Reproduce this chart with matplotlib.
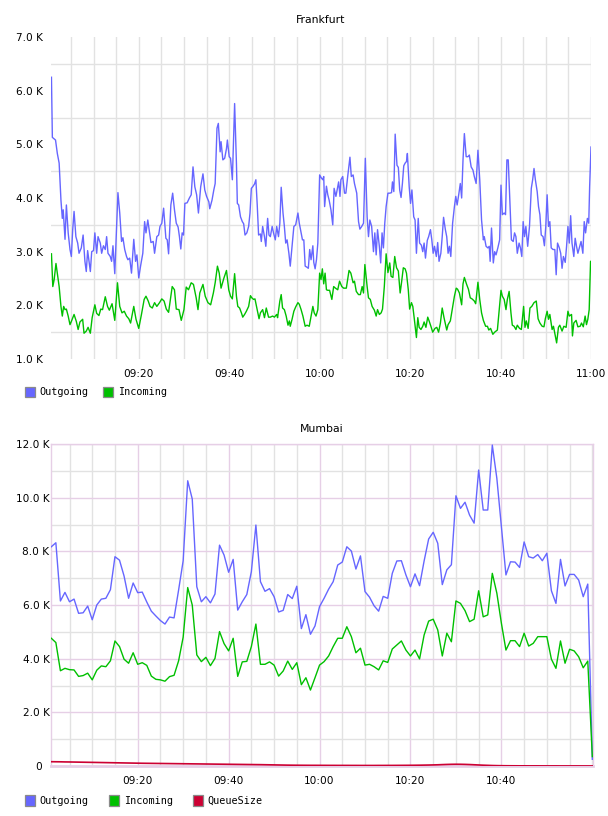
import matplotlib
matplotlib.use("Agg")
import matplotlib.pyplot as plt
from matplotlib.patches import Rectangle
import numpy as np

# ---------------- DATA ----------------
# Frankfurt: (minutes after 09:00, value in K)
FRA_OUT = [(0.7,6.25),(0.9,5.13),(1.6,5.08),(2.0,4.83),(2.4,4.65),(2.8,3.96),(3.1,3.62),(3.3,3.78),(3.7,3.23),(4.0,3.87),
(4.4,3.35),(4.8,3.04),(5.1,2.91),(5.4,3.41),(5.7,3.75),(6.1,3.28),(6.5,3.16),(6.8,2.97),(7.3,3.07),(7.7,3.31),
(8.1,2.82),(8.4,2.63),(8.7,3.02),(9.3,2.63),(9.6,3.00),(10.0,3.02),(10.3,3.35),(10.7,2.97),(11.0,3.28),(11.5,3.16),
(11.8,2.97),(12.2,3.11),(12.6,3.04),(12.9,3.28),(13.2,2.97),(13.7,2.91),(14.0,2.82),(14.3,3.11),(14.7,2.59),(15.4,4.10),
(15.8,3.72),(16.2,3.19),(16.5,3.26),(16.9,3.04),(17.3,2.91),(17.6,2.85),(18.0,2.88),(18.4,2.60),(18.9,3.23),(19.3,2.82),
(19.6,2.94),(20.0,2.51),(20.4,2.73),(20.9,2.97),(21.3,3.56),(21.6,3.35),(22.0,3.59),(22.4,3.35),(22.7,3.17),(23.2,3.19),
(23.5,2.97),(24.0,3.28),(24.4,3.31),(24.7,3.47),(25.1,3.53),(25.5,3.81),(26.0,3.25),(26.3,3.22),(26.6,2.96),(27.1,3.87),
(27.5,4.09),(27.9,3.78),(28.3,3.53),(28.7,3.46),(29.0,3.28),(29.3,3.05),(29.6,3.35),(29.9,3.31),(30.2,3.90),(30.7,3.91),
(31.2,4.00),(31.6,4.06),(32.0,4.58),(32.4,4.21),(32.8,4.06),(33.2,3.72),(33.7,4.21),(34.2,4.45),(34.6,4.15),(35.0,4.03),
(35.5,3.93),(35.7,3.80),(36.2,3.96),(36.6,4.15),(36.9,4.27),(37.3,5.30),(37.6,5.39),(38.0,4.86),(38.2,5.05),(38.6,4.71),
(39.0,4.74),(39.4,4.92),(39.6,5.08),(40.0,4.77),(40.3,4.74),(40.7,4.34),
(41.2,5.76),(41.6,4.65),(41.8,3.90),(42.1,3.87),(42.5,3.65),(42.9,3.56),(43.2,3.52),(43.5,3.31),(43.9,3.35),(44.3,3.47),
(44.6,3.72),(44.9,4.18),(45.2,4.21),(45.6,4.26),(45.9,4.34),(46.2,3.87),(46.5,3.31),(46.9,3.33),(47.1,3.19),(47.4,3.47),
(47.8,3.28),(48.1,3.10),(48.5,3.62),(48.8,3.31),(49.1,3.28),(49.5,3.47),(49.8,3.35),(50.2,3.22),(50.5,3.47),(50.9,3.28),
(51.2,3.53),(51.5,4.20),(51.9,3.72),(52.2,3.47),(52.5,3.16),(52.8,3.22),(53.2,2.97),(53.5,2.73),(53.9,3.10),(54.3,3.47),
(54.7,3.50),(54.9,3.59),(55.2,3.72),(55.5,3.53),(55.9,3.35),(56.2,3.22),(56.5,3.22),(56.8,2.73),(57.2,2.71),(57.5,2.69),
(57.8,3.04),(58.1,2.85),(58.5,3.11),(58.7,2.80),(59.0,2.68),(59.3,2.85),(59.6,3.16),(60.0,4.43),(60.4,4.37),(60.7,4.34),
(60.9,4.40),(61.1,3.84),(61.5,4.22),(61.8,4.06),(62.1,3.96),(62.5,3.78),(62.9,3.50),(63.2,4.18),(63.6,4.03),(63.8,4.12),
(64.2,4.30),(64.5,4.03),(64.7,4.34),(65.1,4.40),(65.5,4.09),(65.8,4.09),(66.2,4.40),(66.7,4.76),(67.0,4.40),(67.4,4.43),
(67.7,4.27),(68.2,4.09),(68.6,3.56),(68.9,3.42),(69.3,3.47),(69.7,3.53),(70.1,4.74),(70.5,3.65),(70.8,3.28),(71.1,3.59),
(71.5,3.47),(71.9,3.00),(72.2,3.35),(72.5,2.94),(72.8,3.41),(73.2,3.10),(73.5,2.79),(73.8,3.35),(74.1,3.07),(74.4,3.53),
(74.7,3.84),(75.1,4.09),(75.5,4.09),(75.9,4.10),(76.1,4.30),(76.4,4.12),(76.7,5.19),(77.1,4.61),(77.4,4.57),(77.7,4.15),
(78.0,4.01),(78.3,4.27),(78.6,4.60),(78.9,4.65),(79.2,4.68),(79.4,4.83),(79.8,4.21),(80.1,3.90),(80.4,4.15),
(80.8,3.65),(81.1,3.59),(81.4,2.97),(81.8,3.62),(82.1,3.16),(82.5,3.12),(82.8,3.00),(83.1,3.16),(83.4,2.88),(83.8,3.21),
(84.1,3.28),(84.5,3.41),(84.8,3.22),(85.1,2.97),(85.4,3.10),(85.8,2.91),(86.1,3.17),(86.4,2.82),(86.8,2.97),(87.1,3.28),
(87.4,3.64),(87.8,3.41),(88.1,3.28),(88.4,2.97),(88.7,3.10),(89.0,2.91),(89.4,3.53),(89.8,3.84),(90.1,4.03),(90.4,3.87),
(90.8,4.09),(91.1,4.27),(91.4,4.00),(91.7,4.71),(92.0,5.20),(92.4,4.77),(92.8,4.77),(93.1,4.80),(93.5,4.58),(93.9,4.52),
(94.2,4.40),(94.6,4.27),(95.0,4.89),(95.4,4.34),(95.8,3.59),(96.2,3.22),(96.4,3.28),(96.8,3.10),(97.2,3.07),(97.5,3.10),
(97.7,2.82),(98.0,3.44),(98.4,2.79),(98.7,3.00),(99.0,2.94),(99.4,3.07),(99.8,3.22),(100.1,4.24),(100.4,3.69),(100.8,3.72),
(101.1,3.69),(101.4,4.71),(101.7,4.71),(102.0,4.09),(102.4,3.22),(102.8,3.19),(103.1,3.35),(103.4,3.28),(103.7,2.97),(104.1,3.16),
(104.4,3.07),(104.7,2.91),(105.0,3.56),(105.3,3.28),(105.6,3.47),(106.0,3.10),(106.4,3.47),(106.8,4.18),(107.1,4.34),(107.4,4.55),
(107.7,4.34),(108.1,4.12),(108.4,3.84),(108.7,3.69),(109.0,3.31),(109.4,3.28),(109.7,3.11),(110.0,3.47),(110.3,4.06),(110.6,3.47),
(110.9,3.56),(111.2,3.07),(111.6,3.04),(112.0,3.04),(112.3,2.57),(112.6,3.16),(113.0,3.07),(113.3,2.97),(113.6,2.69),(113.9,2.91),
(114.3,2.80),(114.6,3.10),(114.9,3.47),(115.2,3.16),(115.5,3.67),(115.8,3.16),(116.2,2.91),(116.5,3.25),(116.8,3.10),(117.1,2.97),
(117.5,3.10),(117.8,3.19),(118.2,2.97),(118.5,3.56),(118.8,3.35),(119.2,3.62),(119.5,3.53),(119.7,4.21),(120.0,4.95)]

FRA_IN = [(0.7,2.96),(1.0,2.35),(1.3,2.48),(1.7,2.78),(2.0,2.60),(2.4,2.35),(2.8,1.98),(3.1,1.80),(3.4,1.98),(3.7,1.92),
(4.0,1.93),(4.4,1.80),(4.8,1.64),(5.1,1.70),(5.7,1.83),(6.2,1.70),(6.6,1.55),(7.0,1.69),(7.6,1.74),(7.9,1.48),
(8.4,1.52),(8.8,1.59),(9.3,1.48),(9.7,1.77),(10.3,2.01),(10.7,1.85),(11.2,1.81),(11.6,1.93),(12.0,1.92),(12.6,2.16),
(13.1,1.98),(13.5,1.91),(14.1,2.03),(14.7,1.72),(15.3,2.42),(15.8,1.98),(16.3,1.86),(16.8,1.89),(17.3,1.80),(17.8,1.75),
(18.2,1.67),(18.9,1.98),(19.4,1.74),(20.0,1.57),(20.6,1.83),(21.2,2.11),(21.6,2.17),(22.1,2.08),(22.5,1.98),(23.0,1.95),
(23.5,2.05),(24.0,1.98),(24.6,2.05),(25.1,2.12),(25.6,2.08),(26.1,1.93),(26.6,1.87),(27.4,2.35),(27.9,2.29),(28.3,1.93),
(28.9,1.92),(29.4,1.72),(30.0,1.92),(30.5,2.34),(31.0,2.29),(31.6,2.42),(32.1,2.39),(32.7,2.14),(33.1,1.92),(33.5,2.23),
(34.2,2.39),(34.7,2.17),(35.3,2.05),(35.9,2.01),(36.5,2.23),(36.9,2.42),(37.4,2.73),(37.8,2.60),(38.2,2.32),(38.8,2.50),
(39.4,2.65),(39.9,2.29),(40.3,2.17),(40.7,2.12),
(41.2,2.59),(41.6,2.17),(41.9,1.98),(42.3,1.95),(42.7,1.86),(43.0,1.78),(43.4,1.83),(43.8,1.89),(44.3,1.98),(44.7,2.18),
(45.0,2.14),(45.4,2.11),(45.7,2.12),(46.2,1.92),(46.6,1.75),(46.9,1.86),(47.4,1.92),(47.8,1.77),(48.2,1.95),(48.7,1.78),
(49.1,1.78),(49.6,1.80),(50.0,1.78),(50.5,1.83),(50.7,1.77),(51.2,2.08),(51.5,2.20),(51.8,1.95),(52.2,1.92),(52.6,1.80),
(53.0,1.63),(53.3,1.71),(53.5,1.61),(53.9,1.74),(54.3,1.89),(54.7,1.97),(55.2,2.05),(55.5,2.02),(55.9,1.92),(56.3,1.80),
(56.8,1.61),(57.2,1.63),(57.7,1.61),(58.1,1.80),(58.5,1.98),(58.8,1.86),(59.2,1.80),(59.6,1.92),(60.0,2.60),(60.3,2.48),
(60.6,2.68),(60.9,2.40),(61.2,2.60),(61.5,2.29),(61.8,2.28),(62.2,2.28),(62.7,2.11),(63.1,2.35),(63.5,2.32),(64.0,2.29),
(64.4,2.45),(64.9,2.35),(65.3,2.32),(65.9,2.32),(66.5,2.65),(66.9,2.60),(67.4,2.42),(67.7,2.45),(68.1,2.26),(68.6,2.20),
(69.0,2.20),(69.4,2.35),(69.7,2.23),(70.0,2.76),(70.5,2.35),(70.8,2.14),(71.2,2.11),(71.6,1.98),(72.1,1.91),(72.5,1.80),
(72.8,1.92),(73.2,1.83),(73.6,1.86),(73.9,1.93),(74.3,2.35),(74.7,2.96),(75.1,2.61),(75.5,2.79),(75.8,2.54),(76.2,2.52),
(76.6,2.91),(77.0,2.70),(77.4,2.64),(77.8,2.23),(78.1,2.42),(78.5,2.70),(78.9,2.68),(79.2,2.60),(79.6,2.29),(79.9,1.93),
(80.3,2.05),
(80.6,1.98),(80.9,1.77),(81.4,1.40),(81.7,1.77),(82.0,1.59),(82.4,1.55),(82.8,1.61),(83.1,1.69),(83.5,1.59),(83.9,1.78),
(84.2,1.71),(84.6,1.61),(85.0,1.50),(85.5,1.57),(85.9,1.59),(86.3,1.50),(86.7,1.67),(87.1,1.95),(87.5,1.77),(88.1,1.54),
(88.4,1.64),(88.9,1.71),(89.3,1.92),(89.8,2.17),(90.2,2.32),(90.5,2.30),(90.9,2.23),(91.4,2.01),(91.7,2.40),(92.0,2.52),
(92.5,2.39),(92.9,2.30),(93.3,2.14),(93.7,2.12),(94.2,2.08),(94.5,2.03),(95.0,2.43),(95.4,2.11),(95.8,1.86),(96.2,1.72),
(96.7,1.61),(97.1,1.61),(97.4,1.54),(97.8,1.57),(98.3,1.46),(98.7,1.50),(99.3,1.54),(99.7,1.92),(100.1,2.28),(100.4,2.17),
(100.8,2.11),(101.2,1.92),(101.5,2.11),(101.9,2.26),(102.3,1.86),(102.6,1.63),(103.0,1.61),(103.4,1.55),(103.7,1.63),(104.2,1.57),
(104.6,1.55),(105.1,1.98),(105.4,1.59),(105.7,1.71),(106.1,1.57),(106.5,1.95),(106.9,1.98),(107.4,2.05),(107.9,2.08),(108.3,1.75),
(108.7,1.67),(109.2,1.61),(109.6,1.60),(109.9,1.75),(110.3,1.89),(110.6,1.74),(110.9,1.83),(111.4,1.55),(111.7,1.61),(112.1,1.43),
(112.4,1.30),(112.8,1.59),(113.1,1.63),(113.6,1.52),(114.0,1.61),(114.5,1.59),(114.9,1.89),(115.2,1.80),(115.7,1.83),(115.9,1.43),
(116.2,1.67),(116.7,1.72),(117.1,1.60),(117.6,1.61),(117.9,1.67),(118.3,1.60),(118.7,1.80),(119.0,1.64),(119.3,1.74),(119.6,1.92),
(119.9,2.82),(120.0,2.82)]

# Mumbai: one sample per minute from 09:01 to 11:00 (values in K)
MUM_OUT = [8.17,8.32,6.15,6.47,6.12,6.22,5.69,5.71,5.96,5.45, 6.00,6.22,6.25,6.57,7.80,7.67,7.08,6.25,6.82,6.46,
           6.48,6.11,5.77,5.59,5.42,5.29,5.55,5.52,6.56,7.65, 10.63,9.95,6.68,6.12,6.31,6.08,6.41,8.23,7.86,7.22,
           7.70,5.81,6.12,6.39,7.24,8.98,6.87,6.51,6.61,6.31, 5.74,5.80,6.39,6.24,6.70,5.12,5.64,4.91,5.22,5.94,
           6.25,6.59,6.87,7.49,7.60,8.17,8.01,7.34,7.83,6.50, 6.29,5.97,5.77,6.32,6.25,7.18,7.64,7.65,7.12,6.68,
           7.16,6.72,7.64,8.46,8.71,8.30,6.76,7.31,7.50,10.07, 9.60,9.83,9.35,9.05,11.03,9.54,9.54,11.96,10.72,8.92,
           7.12,7.61,7.60,7.40,8.35,7.80,7.75,7.88,7.65,7.93, 6.53,6.06,7.70,6.71,7.14,7.14,6.93,6.31,6.78,0.25]
MUM_IN = [4.76,4.60,3.55,3.64,3.59,3.58,3.34,3.37,3.46,3.21, 3.57,3.73,3.70,3.92,4.66,4.45,3.98,3.83,4.22,3.79,
          3.85,3.75,3.35,3.23,3.21,3.16,3.33,3.38,3.92,4.80, 6.65,6.00,4.14,3.89,4.05,3.74,4.01,5.01,4.56,4.29,
          4.76,3.34,3.88,3.90,4.45,5.29,3.79,3.79,3.88,3.76, 3.35,3.54,3.91,3.60,3.85,3.03,3.29,2.83,3.29,3.76,
          3.89,4.10,4.45,4.76,4.76,5.19,4.82,4.22,4.39,3.76, 3.79,3.70,3.58,3.92,3.86,4.36,4.51,4.66,4.32,4.10,
          4.32,3.99,4.88,5.40,5.47,5.07,4.10,4.95,4.63,6.15, 6.06,5.79,5.38,5.47,6.53,5.56,5.63,7.18,6.44,5.32,
          4.32,4.67,4.67,4.45,4.95,4.47,4.57,4.82,4.82,4.82, 3.98,3.64,4.66,3.83,4.35,4.29,4.07,3.66,3.91,0.35]
MUM_QUEUE = [160,158,156,152,150,147,144,141,138,135,132,129,126,123,120,117,114,111,108,105,
             102,100,98,96,94,92,90,88,86,84,82,80,78,76,74,72,70,68,66,64,
             62,60,58,56,54,52,50,47,44,41,38,35,32,30,28,
             27,26,25,25,24,24,23,23,22,22,22,21,21,20,20,20,20,21,21,22,22,23,24,25,26,28,30,33,36,40,45,
             52,58,63,65,64,60,54,46,38,
             30,24,18,14,11,9,8,7,6,6,5,5,5,4,4,4,4,3,3,3,3,3,2,2,2]
MUM_MINUTES = list(range(1, 121))

TICK_MINUTES = [20, 40, 60, 80, 100, 120]
TICK_LABELS = ["09:20", "09:40", "10:00", "10:20", "10:40", "11:00"]
SERIES = ["Outgoing", "Incoming", "QueueSize"]
COLORS = ["#6666ff", "#00c000", "#cc0033"]

# ---------------- FIGURE ----------------
W, H = 608, 816
fig = plt.figure(figsize=(W / 100, H / 100), dpi=100)
fig.patch.set_facecolor("white")

GREY = "#e2e2e2"
PINK = "#e6cfe6"
TICKFONT = dict(family="DejaVu Sans", size=7.6)


def ax_rect(l, t, r, b):
    return [l / W, 1 - b / H, (r - l) / W, (b - t) / H]


# ---- Frankfurt ----
ax1 = fig.add_axes(ax_rect(51, 37, 591, 359))
t_o, v_o = zip(*FRA_OUT)
t_i, v_i = zip(*FRA_IN)
ax1.plot(t_o, v_o, color=COLORS[0], lw=1.0, zorder=3)
ax1.plot(t_i, v_i, color=COLORS[1], lw=1.0, zorder=3)
ax1.set_xlim(0.6, 120.0)
ax1.set_ylim(1.0, 7.0)
ax1.set_xticks(TICK_MINUTES)
ax1.set_xticklabels(TICK_LABELS, **TICKFONT)
ax1.set_xticks(np.arange(5, 121, 5), minor=True)
yt = np.arange(1, 8)
ax1.set_yticks(yt)
ax1.set_yticklabels([f"{v:.1f} K" for v in yt], **TICKFONT)
ax1.set_yticks(np.arange(1.5, 7.0, 1.0), minor=True)
ax1.grid(axis="x", which="both", color=GREY, lw=1.0)
ax1.grid(axis="y", which="minor", color=GREY, lw=1.0)
ax1.grid(axis="y", which="major", visible=False)
ax1.set_axisbelow(True)
for s in ax1.spines.values():
    s.set_visible(False)
ax1.tick_params(axis="both", which="both", length=0)
ax1.tick_params(axis="y", pad=5.5)
ax1.tick_params(axis="x", pad=7)
for lab in ax1.get_xticklabels():
    lab.set_clip_on(False)
fig.text(321 / W, 1 - 20 / H, "Frankfurt", ha="center", va="center",
         family="DejaVu Sans", size=7.8)

# ---- Mumbai ----
ax2 = fig.add_axes(ax_rect(51, 444, 593, 766))
ax2.plot(MUM_MINUTES, MUM_OUT, color=COLORS[0], lw=1.0, zorder=3)
ax2.plot(MUM_MINUTES, MUM_IN, color=COLORS[1], lw=1.0, zorder=3)
ax2.plot(MUM_MINUTES, [q / 1000 for q in MUM_QUEUE], color=COLORS[2], lw=1.2, zorder=3)
ax2.set_xlim(0.93, 120.15)
ax2.set_ylim(0, 12)
ax2.set_xticks(TICK_MINUTES[:5])
ax2.set_xticklabels(TICK_LABELS[:5], **TICKFONT)
ax2.set_xticks(np.arange(5, 121, 5), minor=True)
yt2 = np.arange(0, 13, 2)
ax2.set_yticks(yt2)
ax2.set_yticklabels(["0  "] + [f"{v:.1f} K" for v in yt2[1:]], **TICKFONT)
ax2.set_yticks(np.arange(1, 12, 2), minor=True)
ax2.grid(which="minor", color=GREY, lw=1.0)
ax2.grid(which="major", color=PINK, lw=1.0)
ax2.set_axisbelow(True)
for name, s in ax2.spines.items():
    s.set_color(PINK)
    s.set_linewidth(1.0)
ax2.spines["bottom"].set_linewidth(2.0)
ax2.tick_params(axis="both", which="both", length=0)
ax2.tick_params(axis="y", pad=1)
ax2.tick_params(axis="x", pad=7.5)
fig.text(322 / W, 1 - 429 / H, "Mumbai", ha="center", va="center",
         family="DejaVu Sans", size=7.8)

# ---- legends ----
def legend(y_center, items):
    for (x_box, x_text), name, col in items:
        fig.add_artist(Rectangle(((x_box) / W, 1 - (y_center + 5.2) / H), 10.5 / W, 10.5 / H,
                                 transform=fig.transFigure, facecolor=col,
                                 edgecolor="#8a8a8a", lw=0.9))
        fig.text(x_text / W, 1 - y_center / H, name, ha="left", va="center",
                 family="DejaVu Sans Mono", size=7.3)


legend(392, [((24.5, 39), SERIES[0], COLORS[0]), ((102.5, 118), SERIES[1], COLORS[1])])
legend(800.5, [((24.5, 39), SERIES[0], COLORS[0]), ((108.5, 124), SERIES[1], COLORS[1]),
               ((193, 207), SERIES[2], COLORS[2])])

fig.savefig("out.png", dpi=100, facecolor="white")
